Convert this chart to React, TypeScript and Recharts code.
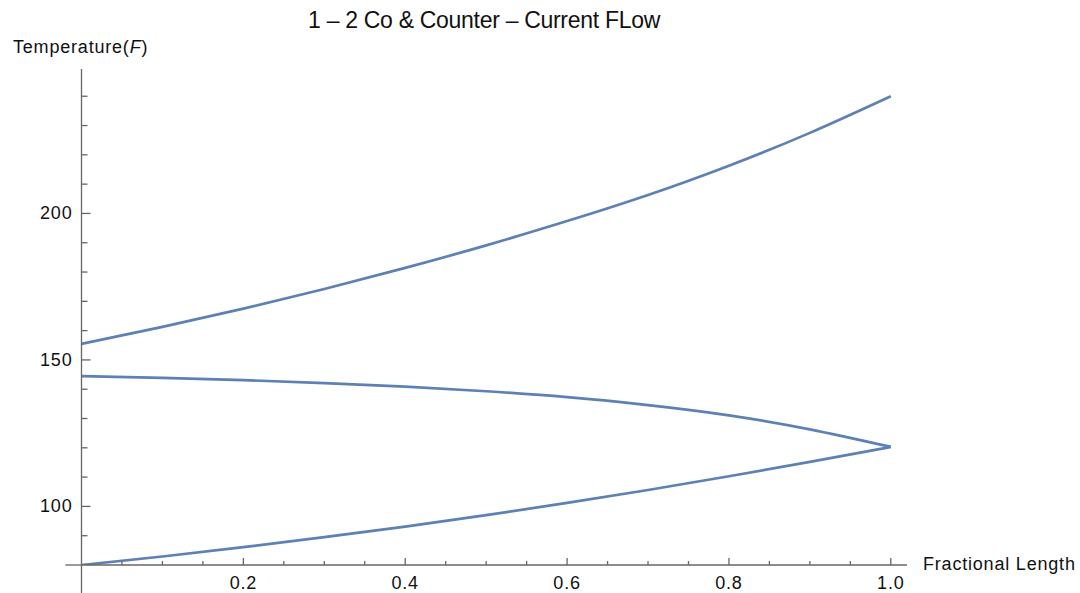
import React from "react";
import { LineChart, Line, XAxis, YAxis, ReferenceLine } from "recharts";

// fractional length positions
const xs = [0, 0.1, 0.2, 0.3, 0.4, 0.5, 0.6, 0.7, 0.8, 0.9, 1.0];
// shell side (hot) temperature
const shellTemp = [155.5, 161.3, 167.5, 174.2, 181.4, 189.1, 197.4, 206.3, 216.3, 227.5, 240.0];
// tube pass 2 (coming back)
const tubePass2 = [144.5, 143.9, 143.1, 142.1, 140.9, 139.3, 137.3, 134.6, 131.1, 126.3, 120.3];
// tube pass 1 (going out)
const tubePass1 = [80.0, 82.9, 86.1, 89.5, 93.1, 97.0, 101.2, 105.6, 110.3, 115.2, 120.3];

const xTicks = [0.05, 0.1, 0.15, 0.2, 0.25, 0.3, 0.35, 0.4, 0.45, 0.5, 0.55, 0.6, 0.65, 0.7, 0.75, 0.8, 0.85, 0.9, 0.95, 1.0];
const yTicks = [90, 100, 110, 120, 130, 140, 150, 160, 170, 180, 190, 200, 210, 220, 230, 240];

const data = xs.map((x, i) => ({
  x,
  shell: shellTemp[i],
  pass2: tubePass2[i],
  pass1: tubePass1[i],
}));

const AXIS = "#666";
const LINE = "#5E81B5";
const FONT = "'Liberation Sans', Arial, sans-serif";

const XTick = (props: any) => {
  const { x, y, payload } = props;
  const v = payload.value;
  const major = Math.round(v * 100) % 20 === 0;
  return (
    <g>
      <line x1={x} x2={x} y1={y} y2={y - (major ? 7 : 4)} stroke={AXIS} strokeWidth={1.3} />
      {major && (
        <text x={x} y={y + 24} textAnchor="middle" fontSize={18} letterSpacing={0.8} fill="#111" fontFamily={FONT}>
          {v.toFixed(1)}
        </text>
      )}
    </g>
  );
};

const YTick = (props: any) => {
  const { x, y, payload } = props;
  const v = payload.value;
  const major = v % 50 === 0;
  return (
    <g>
      <line x1={x} x2={x + (major ? 9 : 6)} y1={y} y2={y} stroke={AXIS} strokeWidth={1.3} />
      {major && (
        <text x={x - 9} y={y + 6} textAnchor="end" fontSize={18} letterSpacing={0.8} fill="#111" fontFamily={FONT}>
          {v}
        </text>
      )}
    </g>
  );
};

export default function App() {
  return (
    <div style={{ position: "absolute", left: 0, top: 0, width: 1080, height: 593, background: "#fff" }}>
      <LineChart
        width={1080}
        height={593}
        data={data}
        margin={{ top: 69, right: 173, bottom: 0, left: 0.5 }}
      >
        <XAxis
          dataKey="x"
          type="number"
          domain={[0, 1.02]}
          ticks={xTicks}
          tick={XTick}
          tickSize={0}
          tickMargin={0}
          height={28}
          axisLine={{ stroke: AXIS, strokeWidth: 1.3 }}
          allowDataOverflow
        />
        <YAxis
          type="number"
          domain={[80, 249.3]}
          ticks={yTicks}
          tick={YTick}
          tickSize={0}
          tickMargin={0}
          width={81}
          axisLine={{ stroke: AXIS, strokeWidth: 1.3 }}
          allowDataOverflow
        />
        <ReferenceLine
          segment={[{ x: -0.02, y: 80 }, { x: 0, y: 80 }]}
          stroke={AXIS}
          strokeWidth={1.3}
          ifOverflow="visible"
        />
        <ReferenceLine
          segment={[{ x: 0, y: 80 }, { x: 0, y: 70.2 }]}
          stroke={AXIS}
          strokeWidth={1.3}
          ifOverflow="visible"
        />
        <Line type="natural" dataKey="shell" stroke={LINE} strokeWidth={2.7} dot={false} isAnimationActive={false} />
        <Line type="natural" dataKey="pass2" stroke={LINE} strokeWidth={2.7} dot={false} isAnimationActive={false} />
        <Line type="natural" dataKey="pass1" stroke={LINE} strokeWidth={2.7} dot={false} isAnimationActive={false} />
      </LineChart>
      <svg
        width={1080}
        height={593}
        style={{ position: "absolute", left: 0, top: 0, pointerEvents: "none" }}
        fontFamily={FONT}
      >
        <text x={484} y={28} textAnchor="middle" fontSize={23} letterSpacing={-0.3} fill="#111">
          1 – 2 Co &amp; Counter – Current FLow
        </text>
        <text x={13} y={53} fontSize={18} letterSpacing={0.8} fill="#111">
          Temperature(<tspan fontStyle="italic">F</tspan>)
        </text>
        <text x={923} y={570} fontSize={18} letterSpacing={0.8} fill="#111">
          Fractional Length
        </text>
      </svg>
    </div>
  );
}
